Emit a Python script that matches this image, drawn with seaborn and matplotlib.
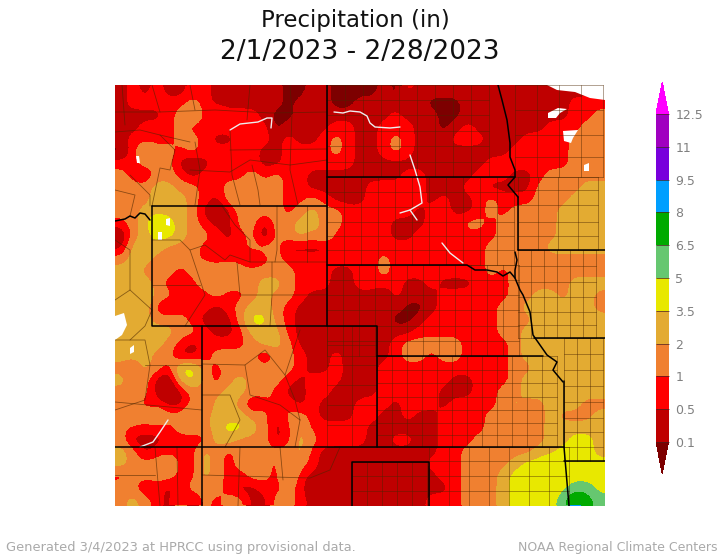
import numpy as np
import seaborn as sns
import matplotlib.pyplot as plt
from matplotlib.colors import BoundaryNorm, ListedColormap

# Monthly precipitation map on a 41 x 35 grid.
# each digit is the colour class of one grid cell

bounds = [0.1, 0.5, 1, 2, 3.5, 5, 6.5, 8, 9.5, 11, 12.5]
tick_labels = ['0.1', '0.5', '1', '2', '3.5', '5', '6.5', '8', '9.5', '11', '12.5']
colors = ['#7d0000', '#bf0000', '#ff0000', '#f08030', '#e3ab32', '#e8e800',
          '#66c770', '#00aa00', '#009fff', '#7800dc', '#a000c0', '#ff00ff']
class_values = [0.05, 0.3, 0.75, 1.5, 2.75, 4.25, 5.75, 7.25, 8.75]

west = ['12121122111111001100', '12222232111111011100', '11112342322210011111',
        '11222322222220111122', '12222332112221211232', '02433232222211222232',
        '22333101222211222222', '32133212222323221111', '33344332233433221110',
        '33344432134333223211', '33444431013333234332', '23465432113313344332',
        '03455433212303343422', '14443332222333111122', '34433332222123222222',
        '44333234343333322211', '45432123333344322211', '44533222322343321111',
        '44421222123443211110', '44433321013553211111', '44444332112444211111',
        '44443212222344311111', '44433112333313321121', '32432553233333321121',
        '43310453234333212221', '33310133344332112210', '33221132443123212111',
        '34343343444331332111', '32222333455431242222', '31112222443331243222',
        '43122224323333342111', '43334224323332432111', '23333224322332421111',
        '33121233321122320110', '34321313233113321111']
east = ['001021111111111111111', '111101000111111111222', '111211100111111111223',
        '112221101211111122233', '112321112221112222333', '112321111111122212333',
        '111111111112222222333', '111122111122211233333', '122222111221111333344',
        '123222121123222333444', '222221221123233334444', '222111232332333334444',
        '222112222222334334444', '222222222223333344444', '223222222223333333333',
        '223222222223233333333', '222211211122233333444', '110211122222233443443',
        '111100122232334444443', '111001222222333444444', '111112222222334444444',
        '111233333232234444444', '111233233222234444444', '212222222222233444444',
        '112222221122234444444', '112222211122334444444', '222122212222343344433',
        '221121122223333343334', '211111123223334344444', '211221122233333344554',
        '111111122333333445554', '111111222333345565555', '111111122333455555555',
        '111111112333456555665', '111111222333455556876']

# state lines, in map pixels
states = [
    [(152, 206), (327, 206)], [(152, 206), (152, 326), (377, 326), (377, 447)],
    [(327, 85), (327, 326)], [(327, 177), (515, 177)], [(202, 326), (202, 506)],
    [(377, 356), (543, 356)], [(115, 447), (564, 447)], [(352, 506), (352, 462), (429, 462), (429, 506)],
    [(564, 381), (564, 447), (569, 506)], [(564, 461), (605, 461)], [(518, 250), (605, 250)],
    [(534, 338), (605, 338)], [(518, 197), (518, 250)],
    [(115, 221), (125, 219), (130, 216), (135, 218), (140, 213), (145, 214), (150, 220)],
    [(327, 265), (467, 265), (475, 270), (487, 270), (497, 272), (503, 276), (510, 272), (515, 278)],
    [(498, 85), (502, 100), (507, 120), (510, 143), (510, 157), (515, 170), (515, 177), (508, 185), (518, 197)],
    [(515, 252), (517, 260), (515, 270), (515, 278), (520, 290), (523, 295), (530, 312), (533, 335),
     (540, 345), (547, 355), (557, 362), (553, 370), (563, 382)],
]

# rectangular county blocks: x lines, y lines
county_blocks = [
    (list(range(377, 565, 15)), [356, 370, 383, 397, 410, 423, 435, 447]),
    (list(range(327, 530, 16)), [265, 280, 295, 310, 326, 341, 356]),
    (list(range(327, 515, 17)), [177, 192, 207, 222, 236, 250, 265]),
    (list(range(327, 505, 18)), [85, 100, 115, 131, 146, 162, 177]),
    (list(range(518, 606, 13)), [250, 266, 282, 297, 312, 325, 338]),
    (list(range(564, 606, 13)), [338, 354, 370, 386, 402, 418, 432, 447, 461]),
    (list(range(352, 430, 15)), [462, 476, 491, 506]),
    (list(range(429, 570, 20)), [447, 461, 476, 491, 506]),
    (list(range(518, 606, 20)), [177, 190, 205, 222, 236, 250]),
    (list(range(515, 606, 22)), [85, 110, 135, 157, 177]),
    ([327, 352, 377], [326, 345, 365, 385, 405, 425, 447]),
]

# irregular county lines further west
county_lines = [
    [(115, 112), (160, 112), (215, 110), (270, 113), (327, 112)], [(115, 132), (140, 130), (160, 135), (190, 142)],
    [(230, 150), (327, 149)], [(160, 135), (175, 150), (170, 170), (160, 168), (152, 206)],
    [(190, 170), (230, 172), (250, 160), (290, 165), (327, 160)], [(230, 130), (232, 175), (240, 205)],
    [(122, 85), (125, 125)], [(152, 85), (160, 112)], [(190, 85), (195, 110)], [(250, 85), (247, 120)],
    [(290, 85), (292, 113), (290, 170), (298, 205)], [(195, 142), (200, 170), (195, 205)],
    [(252, 165), (258, 190), (260, 205)], [(130, 175), (150, 195), (150, 206)], [(115, 190), (135, 195), (130, 216)],
    [(152, 240), (180, 240), (190, 250), (205, 245), (225, 260), (230, 255), (250, 262)],
    [(222, 206), (235, 225), (250, 240), (250, 262), (275, 262), (327, 262)], [(277, 206), (277, 250), (275, 262)],
    [(307, 206), (307, 262)], [(190, 250), (200, 280), (205, 295), (185, 326)],
    [(237, 262), (240, 295), (290, 295), (327, 295)], [(152, 285), (200, 285)], [(272, 262), (272, 295), (270, 326)],
    [(115, 240), (130, 250), (130, 290), (115, 300)], [(130, 290), (152, 310), (145, 326), (130, 340)],
    [(115, 340), (145, 340), (150, 365), (145, 400), (115, 410)], [(145, 365), (202, 365), (202, 380)],
    [(115, 402), (202, 410)], [(155, 447), (160, 506)], [(177, 447), (178, 506)], [(115, 475), (155, 475)],
    [(202, 364), (245, 365), (265, 350), (285, 375), (295, 400), (300, 420)], [(202, 395), (230, 395), (240, 420), (225, 447)],
    [(245, 365), (250, 395), (280, 405), (300, 420)], [(202, 475), (310, 478), (330, 470), (340, 447)],
    [(240, 447), (238, 506)], [(280, 447), (283, 480)], [(300, 420), (295, 447)], [(300, 330), (285, 375)],
]

# rivers and lakes shown without data
rivers = [
    [(230, 130), (240, 124), (258, 122), (267, 118), (272, 118), (271, 128)],
    [(334, 112), (343, 113), (350, 111), (360, 112), (367, 116), (370, 123), (375, 127), (390, 128), (400, 127)],
    [(410, 155), (415, 170), (420, 187), (422, 203), (410, 210), (400, 213)], [(410, 210), (417, 220)],
    [(442, 243), (450, 253), (463, 263)], [(140, 447), (153, 442), (160, 432), (168, 420)],
]
lakes = [
    [(547, 85), (605, 85), (605, 100), (590, 98), (575, 92), (557, 90)],
    [(548, 113), (558, 108), (567, 109), (560, 113), (556, 118), (548, 118)],
    [(563, 131), (578, 130), (573, 138), (571, 143), (564, 141)], [(584, 165), (589, 163), (589, 171), (584, 171)],
    [(115, 316), (124, 313), (127, 325), (122, 335), (115, 340)], [(130, 348), (134, 345), (134, 352), (130, 354)],
    [(166, 219), (170, 218), (170, 226), (166, 225)], [(158, 232), (162, 232), (162, 240), (158, 240)],
    [(136, 156), (139, 156), (140, 163), (137, 163)],
]

sns.set_theme(style='white')
plt.rcParams['font.family'] = 'DejaVu Sans'

codes = np.array([[int(c) for c in w + e] for w, e in zip(west, east)], dtype=float)
precip = np.array(class_values)[codes.astype(int)]
n_rows, n_cols = precip.shape
cmap = ListedColormap(colors)
norm = BoundaryNorm(bounds, len(colors), extend='both')

fig = plt.figure(figsize=(7.2, 5.56), dpi=100)
ax = fig.add_axes([115 / 720, 1 - 506 / 556, 490 / 720, 421 / 556])
cax = fig.add_axes([656 / 720, 1 - 474 / 556, 12.5 / 720, 392 / 556])

sns.heatmap(precip, ax=ax, cmap=cmap, norm=norm, cbar_ax=cax, xticklabels=False, yticklabels=False,
            cbar_kws={'ticks': bounds, 'extend': 'both', 'extendfrac': 0.098, 'spacing': 'uniform', 'drawedges': True})

# smooth the classes only for drawing, so the contours are round like the original
factor = 6
fine_x = (np.arange(n_cols * factor) + 0.5) / factor
fine_y = (np.arange(n_rows * factor) + 0.5) / factor
fine = np.array([np.interp(fine_x, np.arange(n_cols) + 0.5, row) for row in codes])
fine = np.array([np.interp(fine_y, np.arange(n_rows) + 0.5, col) for col in fine.T]).T
kernel = np.exp(-0.5 * (np.arange(-6, 7) / 2.4) ** 2)
kernel /= kernel.sum()
for axis in (0, 1):
    fine = np.apply_along_axis(lambda v: np.convolve(np.pad(v, 6, mode='edge'), kernel, mode='valid'), axis, fine)
fine_precip = np.interp(fine, np.arange(9) - 0.5, [0] + bounds[:8])
fine_precip = np.where(fine > 8, 9, fine_precip)
ax.contourf(fine_x, fine_y, fine_precip, levels=bounds, cmap=cmap, norm=norm, extend='both')


def cell(points):
    # map pixels to heatmap cells
    pts = np.array(points, dtype=float)
    return (pts[:, 0] - 115) * n_cols / 490, (pts[:, 1] - 85) * n_rows / 421


for xs, ys in county_blocks:
    for x in xs:
        ax.plot(*cell([(x, ys[0]), (x, ys[-1])]), color='#4a2500', lw=0.6, alpha=0.5)
    for y in ys:
        ax.plot(*cell([(min(xs), y), (max(xs), y)]), color='#4a2500', lw=0.6, alpha=0.5)
for line in county_lines:
    ax.plot(*cell(line), color='#4a2500', lw=0.6, alpha=0.6)
for line in rivers:
    ax.plot(*cell(line), color='#eeeeee', lw=1.0, solid_capstyle='round')
for lake in lakes:
    ax.fill(*cell(lake), color='white', lw=0)
for line in states:
    ax.plot(*cell(line), color='black', lw=1.1)
ax.set_xlim(0, n_cols)
ax.set_ylim(n_rows, 0)

cb = ax.collections[0].colorbar
cb.set_ticklabels(tick_labels)
cb.ax.tick_params(length=0, pad=5, labelsize=9, labelcolor='#808080')
cb.dividers.set_color('#4a2020')
cb.dividers.set_linewidth(0.5)

fig.text(0.5 - 5 / 720, 1 - 21 / 556, 'Precipitation (in)', ha='center', va='center', fontsize=16.5, color='#111111')
fig.text(360 / 720, 1 - 52 / 556, '2/1/2023 - 2/28/2023', ha='center', va='center', fontsize=19, color='#111111')
fig.text(6 / 720, 1 - 548 / 556, 'Generated 3/4/2023 at HPRCC using provisional data.', ha='left', va='center',
         fontsize=9.4, color='#aaaaaa')
fig.text(717 / 720, 1 - 548 / 556, 'NOAA Regional Climate Centers', ha='right', va='center', fontsize=9, color='#aaaaaa')

fig.savefig('out.png', dpi=100)
